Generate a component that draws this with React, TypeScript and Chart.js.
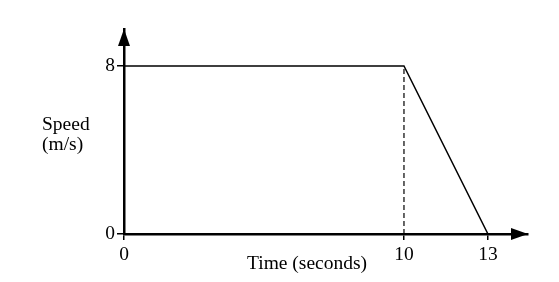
import React, { useEffect, useRef } from "react";
import { Chart, registerables } from "chart.js";

Chart.register(...registerables);

const times = [0, 10, 13];
const speeds = [8, 8, 0];
const dashTimes = [10, 10];
const dashSpeeds = [0, 8];
const xTicks = [0, 10, 13];
const yTicks = [0, 8];
const xTitle = "Time (seconds)";
const yTitleLines = ["Speed", "(m/s)"];

const FONT = "'Liberation Serif', 'Times New Roman', serif";

const decorPlugin = {
  id: "decor",
  afterDraw(chart: any) {
    const ctx = chart.ctx;
    const a = chart.chartArea;
    ctx.save();
    ctx.fillStyle = "#000";
    // y arrow
    ctx.beginPath();
    ctx.moveTo(a.left, a.top);
    ctx.lineTo(a.left - 6, a.top + 17);
    ctx.lineTo(a.left + 6, a.top + 17);
    ctx.closePath();
    ctx.fill();
    // x arrow
    ctx.beginPath();
    ctx.moveTo(a.right, a.bottom);
    ctx.lineTo(a.right - 17, a.bottom - 6);
    ctx.lineTo(a.right - 17, a.bottom + 6);
    ctx.closePath();
    ctx.fill();
    // titles
    ctx.font = `19.5px ${FONT}`;
    ctx.textBaseline = "alphabetic";
    ctx.textAlign = "left";
    ctx.fillText(yTitleLines[0], 42, 130);
    ctx.fillText(yTitleLines[1], 42, 150);
    ctx.fillText(xTitle, 247, 269);
    ctx.restore();
  },
};

export default function App() {
  const ref = useRef<HTMLCanvasElement>(null);
  useEffect(() => {
    if (!ref.current) return;
    const chart = new Chart(ref.current, {
      type: "scatter",
      data: {
        datasets: [
          {
            label: "Speed",
            data: times.map((t, i) => ({ x: t, y: speeds[i] })),
            showLine: true,
            borderColor: "#000",
            borderWidth: 1.5,
            pointRadius: 0,
          },
          {
            label: "Marker",
            data: dashTimes.map((t, i) => ({ x: t, y: dashSpeeds[i] })),
            showLine: true,
            borderColor: "#000",
            borderWidth: 1.2,
            borderDash: [5, 3],
            pointRadius: 0,
          },
        ],
      },
      options: {
        animation: false,
        responsive: false,
        devicePixelRatio: 1,
        layout: { padding: { left: 0, top: 29, right: 31, bottom: 0 } },
        plugins: { legend: { display: false }, tooltip: { enabled: false } },
        scales: {
          x: {
            type: "linear",
            min: 0,
            max: 14.43,
            afterBuildTicks: (s: any) => {
              s.ticks = xTicks.map((v) => ({ value: v }));
            },
            afterFit: (s: any) => {
              s.height = 48;
            },
            grid: {
              drawOnChartArea: false,
              drawTicks: true,
              tickLength: 6,
              color: "#000",
              lineWidth: 1.5,
            },
            border: { display: true, color: "#000", width: 2.5 },
            ticks: {
              color: "#000",
              padding: 3,
              maxRotation: 0,
              font: { family: FONT, size: 19.5 },
              callback: (v: any) => String(v),
            },
          },
          y: {
            type: "linear",
            min: 0,
            max: 9.76,
            afterBuildTicks: (s: any) => {
              s.ticks = yTicks.map((v) => ({ value: v }));
            },
            afterFit: (s: any) => {
              s.width = 124;
            },
            grid: {
              drawOnChartArea: false,
              drawTicks: true,
              tickLength: 7,
              color: "#000",
              lineWidth: 1.5,
            },
            border: { display: true, color: "#000", width: 2.5 },
            ticks: {
              color: "#000",
              padding: 2,
              font: { family: FONT, size: 19.5 },
              callback: (v: any) => String(v),
            },
          },
        },
      },
      plugins: [decorPlugin],
    } as any);
    return () => chart.destroy();
  }, []);
  return (
    <div style={{ position: "absolute", left: 0, top: 0, width: 559, height: 282, background: "#fff" }}>
      <canvas ref={ref} width={559} height={282} />
    </div>
  );
}
